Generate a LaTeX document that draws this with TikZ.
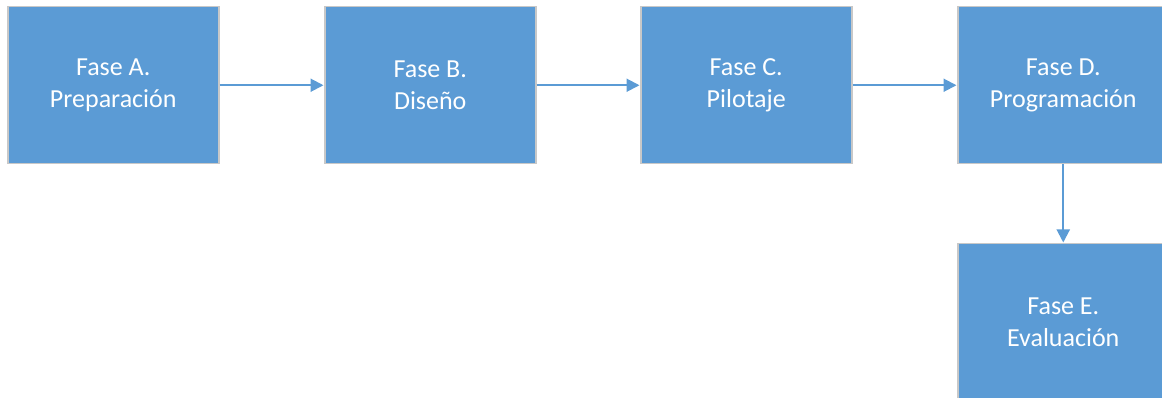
\documentclass[tikz,border=0pt]{standalone}
\usepackage{fontspec}
\setmainfont{Carlito}
\usetikzlibrary{arrows.meta}
\definecolor{phasefill}{RGB}{91,155,213}
\definecolor{phaseedge}{RGB}{200,200,200}
\begin{document}
\begin{tikzpicture}[x=1pt,y=-1pt,
  phase/.style={draw=phaseedge, line width=1.5pt, fill=phasefill,
    minimum width=211pt, minimum height=157pt, inner sep=0pt,
    text=white, align=center,
    font=\fontsize{26}{32}\selectfont, anchor=north west},
  link/.style={draw=phasefill, line width=2pt,
    -{Triangle[length=13pt,width=13pt]}, shorten >=0.5pt}]
\useasboundingbox (0,0) rectangle (1162,398);
% phase boxes; the last column runs past the page edge
\begin{scope}
\clip (0,0) rectangle (1162,398);
\node[phase] (a) at (7,6) {Fase A.\\Preparación};
\node[phase] (b) at (324,6) {Fase B.\\Diseño};
\node[phase] (c) at (640,6) {Fase C.\\Pilotaje};
\node[phase] (d) at (957,6) {Fase D.\\Programación};
\node[phase] (e) at (957,243) {Fase E.\\Evaluación};
\end{scope}
% flow between phases
\draw[link] (a) -- (b);
\draw[link] (b) -- (c);
\draw[link] (c) -- (d);
\draw[link] (d) -- (e);
\end{tikzpicture}
\end{document}
